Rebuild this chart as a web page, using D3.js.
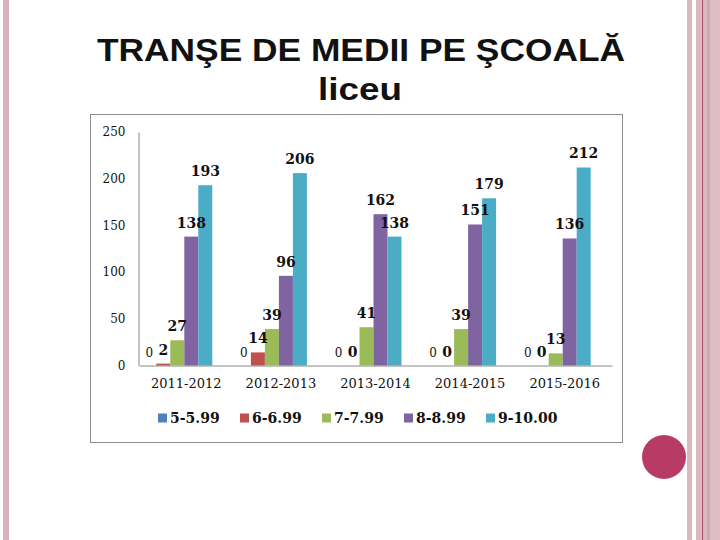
<!DOCTYPE html>
<meta charset="utf-8">
<style>
  body { margin: 0; background: #fff; }
  text { fill: #111; }
</style>
<body>
<script src="https://cdn.jsdelivr.net/npm/d3@7"></script>
<script>

var categories = ["2011-2012", "2012-2013", "2013-2014", "2014-2015", "2015-2016"];
var seriesNames = ["5-5.99", "6-6.99", "7-7.99", "8-8.99", "9-10.00"];
var s5 = [0, 0, 0, 0, 0];
var s6 = [2, 14, 0, 0, 0];
var s7 = [27, 39, 41, 39, 13];
var s8 = [138, 96, 162, 151, 136];
var s9 = [193, 206, 138, 179, 212];
var yTicks = [0, 50, 100, 150, 200, 250];

var seriesValues = [s5, s6, s7, s8, s9];
var colors = ["#4F81BD", "#C0504D", "#9BBB59", "#8064A2", "#4BACC6"];

var width = 720, height = 540;

var svg = d3.select("body").append("svg")
    .attr("width", width)
    .attr("height", height);

// slide decorations
svg.append("rect").attr("x", 3).attr("y", 0).attr("width", 6).attr("height", height).attr("fill", "#d8b2c0");
var stripes = [[687, 5, "#dcb8c3"], [696, 6, "#dcb8c3"], [702, 1.5, "#b5506f"], [703.5, 3.5, "#dcb8c3"], [707, 3, "#d0a6b4"], [710, 10, "#dfbdc7"]];
svg.selectAll(".stripe").data(stripes).enter().append("rect")
    .attr("x", function(d) { return d[0]; })
    .attr("y", 0)
    .attr("width", function(d) { return d[1]; })
    .attr("height", height)
    .attr("fill", function(d) { return d[2]; });
svg.append("circle").attr("cx", 664).attr("cy", 457).attr("r", 22).attr("fill", "#b83b66");

// title
svg.append("text")
    .attr("x", 97).attr("y", 61)
    .attr("textLength", 528).attr("lengthAdjust", "spacingAndGlyphs")
    .style("font-family", "Liberation Sans, Arial, sans-serif")
    .style("font-weight", "bold").style("font-size", "31px")
    .text("TRANŞE DE MEDII PE ŞCOALĂ");
svg.append("text")
    .attr("x", 318).attr("y", 100)
    .attr("textLength", 84).attr("lengthAdjust", "spacingAndGlyphs")
    .style("font-family", "Liberation Sans, Arial, sans-serif")
    .style("font-weight", "bold").style("font-size", "31px")
    .text("liceu");

// chart frame
svg.append("rect")
    .attr("x", 90.5).attr("y", 114.5)
    .attr("width", 532).attr("height", 328)
    .attr("fill", "#fff").attr("stroke", "#8c8c8c");

var x0 = d3.scaleBand().domain(categories).range([139, 612]);
var x1 = d3.scaleBand().domain(d3.range(seriesNames.length)).range([0, 70]);
var y = d3.scaleLinear().domain([0, 250]).range([365.5, 132]);
var groupShift = -9;

var serif = "DejaVu Serif, serif";

// y axis
var yAxis = svg.append("g")
    .attr("transform", "translate(138.5,0)")
    .call(d3.axisLeft(y).tickValues(yTicks).tickSize(0).tickPadding(13));
yAxis.select(".domain").attr("stroke", "#888");
yAxis.selectAll("text")
    .style("font-family", serif).style("font-size", "12px").attr("fill", "#222");

// x axis
var xAxis = svg.append("g")
    .attr("transform", "translate(0,365.5)")
    .call(d3.axisBottom(x0).tickSize(0).tickPadding(13));
xAxis.select(".domain").attr("stroke", "#888");
xAxis.selectAll("text")
    .style("font-family", serif).style("font-size", "13px").attr("fill", "#222");

function groupX(c) { return x0(c) + x0.bandwidth() / 2 - 35 + groupShift; }

// flatten so all labels can sit above all bars
var cells = [];
seriesValues.forEach(function(vals, si) {
  vals.forEach(function(v, ci) { cells.push({s: si, c: categories[ci], v: v}); });
});

svg.append("g").selectAll("rect")
    .data(cells)
  .enter().append("rect")
    .attr("x", function(d) { return groupX(d.c) + x1(d.s); })
    .attr("y", function(d) { return y(d.v); })
    .attr("width", x1.bandwidth())
    .attr("height", function(d) { return y(0) - y(d.v); })
    .attr("fill", function(d) { return colors[d.s]; });

svg.append("g").selectAll("text")
    .data(cells)
  .enter().append("text")
    .attr("x", function(d) { return groupX(d.c) + x1(d.s) + x1.bandwidth() / 2; })
    .attr("y", function(d) { return y(d.v) - 9; })
    .attr("text-anchor", "middle")
    .style("font-family", serif)
    .style("font-size", function(d) { return d.s === 0 ? "12px" : "14px"; })
    .style("font-weight", function(d) { return d.s === 0 ? "normal" : "bold"; })
    .text(function(d) { return d.v; });

// legend
var legend = svg.append("g").selectAll("g")
    .data(seriesNames)
  .enter().append("g")
    .attr("transform", function(d, i) { return "translate(" + (158 + i * 82) + ",418)"; });
legend.append("rect")
    .attr("x", 0).attr("y", -4.5)
    .attr("width", 9).attr("height", 9)
    .attr("fill", function(d, i) { return colors[i]; });
legend.append("text")
    .attr("x", 12).attr("y", 5)
    .style("font-family", serif).style("font-size", "14px").style("font-weight", "bold")
    .text(function(d) { return d; });

</script>
</body>
